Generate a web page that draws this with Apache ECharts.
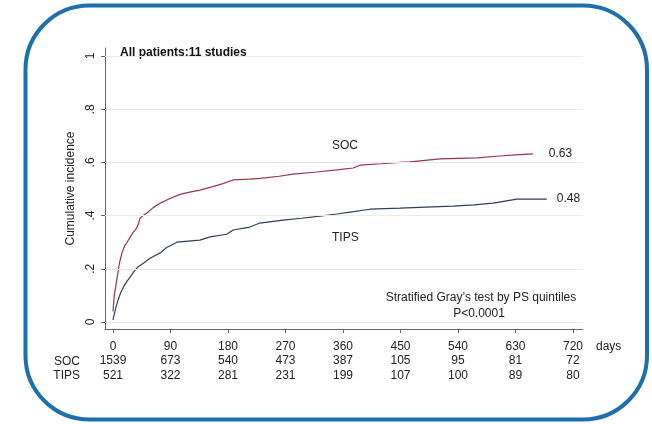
<!DOCTYPE html>
<html>
<head>
<meta charset="utf-8">
<script src="https://cdn.jsdelivr.net/npm/echarts@6/dist/echarts.min.js"></script>
<style>
html,body{margin:0;padding:0;background:#fff;}
#c{width:652px;height:424px;}
</style>
</head>
<body>
<div id="c"></div>
<script>
// ---- data ----
const tickDays = [0, 90, 180, 270, 360, 450, 540, 630, 720];
const socAtRisk = [1539, 673, 540, 473, 387, 105, 95, 81, 72];
const tipsAtRisk = [521, 322, 281, 231, 199, 107, 100, 89, 80];
const yTicks = [0, 0.2, 0.4, 0.6, 0.8, 1];
const yTickLabels = ['0', '.2', '.4', '.6', '.8', '1'];

const socDays = [0,2,6,10,14,18,22,27,31,37,40,42,47,53,63,74,90,105,120,136,155,172,188,214,230,260,282,319,350,376,387,420,449,465,512,570,605,630,657];
const socInc  = [0.04,0.10,0.16,0.22,0.26,0.285,0.30,0.32,0.335,0.353,0.37,0.39,0.40,0.41,0.43,0.447,0.465,0.48,0.488,0.496,0.508,0.52,0.534,0.537,0.54,0.548,0.556,0.564,0.572,0.579,0.59,0.595,0.60,0.602,0.613,0.617,0.624,0.628,0.632];

const tipsDays = [0,4,8,12,16,21,27,33,39,48,58,66,74,84,100,118,136,152,178,188,214,230,266,295,324,350,371,402,449,490,532,565,595,632,679];
const tipsInc  = [0.008,0.05,0.083,0.11,0.13,0.15,0.17,0.19,0.207,0.222,0.24,0.25,0.26,0.28,0.30,0.304,0.308,0.32,0.33,0.346,0.357,0.372,0.383,0.39,0.398,0.406,0.413,0.424,0.428,0.432,0.436,0.44,0.447,0.462,0.462];

const socEndLabel = '0.63';
const tipsEndLabel = '0.48';

// ---- chart ----
const FONT = '"Liberation Sans", Arial, sans-serif';
const TXT = '#222';
const chart = echarts.init(document.getElementById('c'), null, {renderer: 'canvas'});

function txt(x, y, text, align, extra) {
  return {
    type: 'text', x: x, y: y, silent: true,
    style: Object.assign({text: text, align: align || 'left', verticalAlign: 'middle',
      fill: TXT, font: '12px ' + FONT}, extra || {})
  };
}

const option = {
  animation: false,
  backgroundColor: '#fff',
  grid: {left: 105, right: 69, top: 48, bottom: 95, containLabel: false},
  xAxis: {
    type: 'value', min: -12.52, max: 735.6,
    axisLine: {show: true, onZero: false, lineStyle: {color: '#666', width: 1}},
    axisTick: {show: true, customValues: tickDays, length: 4, lineStyle: {color: '#666'}},
    splitLine: {show: false},
    axisLabel: {
      customValues: tickDays, margin: 10, color: TXT, fontFamily: FONT, fontSize: 12,
      lineHeight: 14.5,
      formatter: function (v) {
        const i = tickDays.indexOf(v);
        if (i < 0) return '';
        return v + '\n' + socAtRisk[i] + '\n' + tipsAtRisk[i];
      }
    }
  },
  yAxis: {
    type: 'value', min: -0.0263, max: 1.0301,
    name: 'Cumulative incidence', nameLocation: 'middle', nameGap: 25,
    nameTextStyle: {color: TXT, fontFamily: FONT, fontSize: 12},
    axisLine: {show: true, onZero: false, lineStyle: {color: '#666', width: 1}},
    axisTick: {show: true, customValues: yTicks, length: 4, lineStyle: {color: '#666'}},
    splitLine: {show: false},
    axisLabel: {
      customValues: yTicks, rotate: 90, margin: 8, color: TXT, fontFamily: FONT, fontSize: 12,
      formatter: function (v) {
        const i = yTicks.findIndex(t => Math.abs(t - v) < 1e-9);
        return i < 0 ? '' : yTickLabels[i];
      }
    }
  },
  series: [
    {
      name: 'SOC', type: 'line', showSymbol: false, symbol: 'none',
      data: socDays.map((d, i) => [d, socInc[i]]),
      lineStyle: {color: '#9a3544', width: 1.2},
      itemStyle: {color: '#9a3544'},
      endLabel: {show: true, formatter: socEndLabel, distance: 16, color: TXT, fontFamily: FONT, fontSize: 12},
      markLine: {
        silent: true, symbol: 'none', animation: false,
        label: {show: false},
        lineStyle: {color: '#ebebeb', type: 'solid', width: 1},
        data: yTicks.map(v => ({yAxis: v}))
      },
      z: 3
    },
    {
      name: 'TIPS', type: 'line', showSymbol: false, symbol: 'none',
      data: tipsDays.map((d, i) => [d, tipsInc[i]]),
      lineStyle: {color: '#2c3f60', width: 1.2},
      itemStyle: {color: '#2c3f60'},
      endLabel: {show: true, formatter: tipsEndLabel, distance: 10, color: TXT, fontFamily: FONT, fontSize: 12},
      z: 3
    }
  ],
  graphic: [
    {type: 'rect', silent: true, shape: {x: 25.5, y: 5.5, width: 621.5, height: 414, r: 64},
     style: {fill: 'none', stroke: '#1e6fae', lineWidth: 4}},
    txt(120, 53, 'All patients:11 studies', 'left', {font: 'bold 12px ' + FONT, fill: '#111'}),
    txt(332, 146, 'SOC', 'left'),
    txt(332, 238, 'TIPS', 'left'),
    txt(481, 298, 'Stratified Gray\u2019s test by PS quintiles', 'center'),
    txt(479, 314, 'P<0.0001', 'center'),
    txt(596, 347, 'days', 'left'),
    txt(80, 362, 'SOC', 'right'),
    txt(80, 376, 'TIPS', 'right')
  ]
};
chart.setOption(option);
</script>
</body>
</html>
